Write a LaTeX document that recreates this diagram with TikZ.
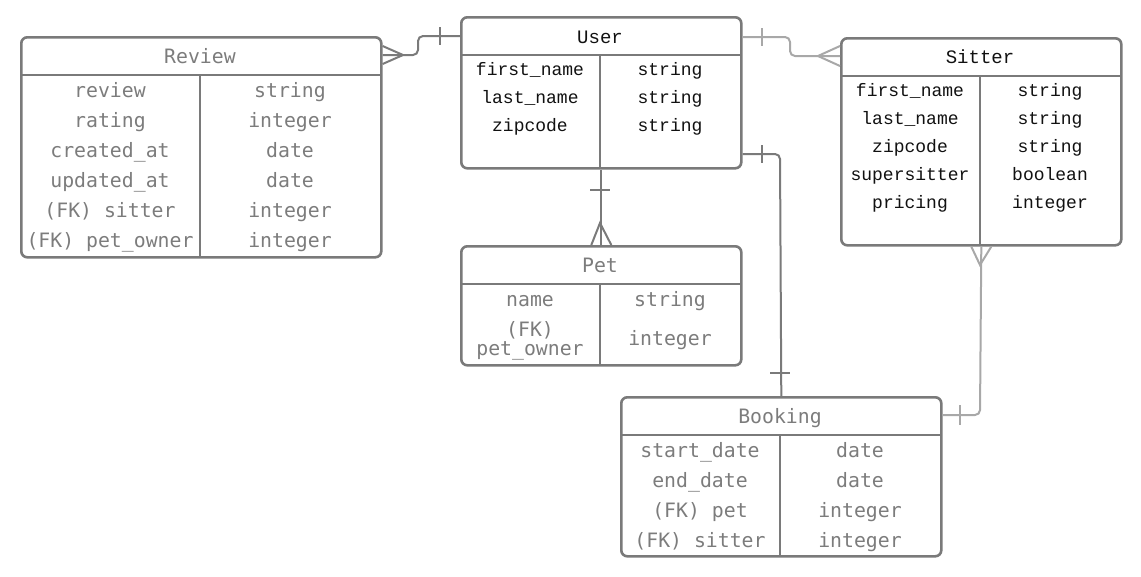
\documentclass[tikz,border=0pt]{standalone}
\usepackage{fontspec}
\newfontfamily\gmono{DejaVu Sans Mono}
\newfontfamily\bmono{Liberation Mono}
\usetikzlibrary{calc}
\definecolor{bord}{HTML}{7A7A7A}
\definecolor{gtext}{HTML}{7C7C7C}
\definecolor{btext}{HTML}{111111}
\definecolor{lconn}{HTML}{A8A8A8}
\tikzset{
  tbl/.style={draw=bord, line width=2.6pt, rounded corners=6pt, inner sep=0pt, anchor=north west},
  sepline/.style={draw=bord, line width=2.6pt},
  gtxt/.style={text=gtext, font=\gmono\fontsize{19.8}{20}\selectfont, anchor=base, inner sep=0pt},
  btxt/.style={text=btext, font=\bmono\fontsize{18}{19}\selectfont, anchor=base, inner sep=0pt},
  bhdr/.style={text=btext, font=\bmono\fontsize{19}{20}\selectfont, anchor=base, inner sep=0pt},
  dconn/.style={draw=bord, line width=2pt, rounded corners=5pt},
  lconnst/.style={draw=lconn, line width=2pt, rounded corners=5pt},
  dmark/.style={draw=bord, line width=2pt},
  lmark/.style={draw=lconn, line width=2pt},
}
\begin{document}
\begin{tikzpicture}[x=1pt,y=-1pt]
\useasboundingbox (0,0) rectangle (1141,576);

% ---------- Review ----------
\node[tbl, minimum width=360pt, minimum height=220pt] (review) at (20,36) {};
\draw[sepline] (20,75) -- (380,75);
\draw[sepline] (200,75) -- (200,256);
\node[gtxt] (reviewh) at (200,63) {Review};
\node[gtxt] (rv1a) at (110,97) {review};      \node[gtxt] (rv1b) at (290,97) {string};
\node[gtxt] (rv2a) at (110,127) {rating};     \node[gtxt] (rv2b) at (290,127) {integer};
\node[gtxt] (rv3a) at (110,157) {created\_at}; \node[gtxt] (rv3b) at (290,157) {date};
\node[gtxt] (rv4a) at (110,187) {updated\_at}; \node[gtxt] (rv4b) at (290,187) {date};
\node[gtxt] (rv5a) at (110,217) {(FK) sitter}; \node[gtxt] (rv5b) at (290,217) {integer};
\node[gtxt] (rv6a) at (110,247) {(FK) pet\_owner}; \node[gtxt] (rv6b) at (290,247) {integer};

% ---------- User ----------
\node[tbl, minimum width=280pt, minimum height=151pt] (user) at (460,16) {};
\draw[sepline] (460,55) -- (740,55);
\draw[sepline] (600,55) -- (600,167);
\node[bhdr] (userh) at (600,43) {User};
\node[btxt] (us1a) at (530,75) {first\_name}; \node[btxt] (us1b) at (670,75) {string};
\node[btxt] (us2a) at (530,103) {last\_name}; \node[btxt] (us2b) at (670,103) {string};
\node[btxt] (us3a) at (530,131) {zipcode};    \node[btxt] (us3b) at (670,131) {string};

% ---------- Sitter ----------
\node[tbl, minimum width=280pt, minimum height=207pt] (sitter) at (840,37) {};
\draw[sepline] (840,76) -- (1120,76);
\draw[sepline] (980,76) -- (980,244);
\node[bhdr] (sitterh) at (980,63) {Sitter};
\node[btxt] (si1a) at (910,96) {first\_name};  \node[btxt] (si1b) at (1050,96) {string};
\node[btxt] (si2a) at (910,124) {last\_name};  \node[btxt] (si2b) at (1050,124) {string};
\node[btxt] (si3a) at (910,152) {zipcode};     \node[btxt] (si3b) at (1050,152) {string};
\node[btxt] (si4a) at (910,180) {supersitter}; \node[btxt] (si4b) at (1050,180) {boolean};
\node[btxt] (si5a) at (910,208) {pricing};     \node[btxt] (si5b) at (1050,208) {integer};

% ---------- Pet ----------
\node[tbl, minimum width=280pt, minimum height=119pt] (pet) at (460,245) {};
\draw[sepline] (460,284) -- (740,284);
\draw[sepline] (600,284) -- (600,364);
\node[gtxt] (peth) at (600,272) {Pet};
\node[gtxt] (pe1a) at (530,306) {name};   \node[gtxt] (pe1b) at (670,306) {string};
\node[gtxt] (pe2a) at (530,336) {(FK)};
\node[gtxt] (pe2c) at (530,355) {pet\_owner};
\node[gtxt] (pe2b) at (670,345) {integer};

% ---------- Booking ----------
\node[tbl, minimum width=320pt, minimum height=159pt] (booking) at (620,396) {};
\draw[sepline] (620,435) -- (940,435);
\draw[sepline] (780,435) -- (780,555);
\node[gtxt] (bookingh) at (780,423) {Booking};
\node[gtxt] (bk1a) at (700,457) {start\_date};  \node[gtxt] (bk1b) at (860,457) {date};
\node[gtxt] (bk2a) at (700,487) {end\_date};    \node[gtxt] (bk2b) at (860,487) {date};
\node[gtxt] (bk3a) at (700,517) {(FK) pet};     \node[gtxt] (bk3b) at (860,517) {integer};
\node[gtxt] (bk4a) at (700,547) {(FK) sitter};  \node[gtxt] (bk4b) at (860,547) {integer};

% ---------- Connectors ----------
% Review -- User
\draw[dconn] ($(review.north east)+(0,19)$) -- (418,55) -- (418,36) -- ($(user.north west)+(0,20)$);
\draw[dmark] ($(review.north east)+(0,10)$) -- (403,55) -- ($(review.north east)+(0,28)$);
\draw[dmark] (440,27) -- (440,45);

% User -- Sitter
\draw[lconnst] ($(user.north east)+(0,21)$) -- (790,37) -- (790,56) -- ($(sitter.north west)+(0,19)$);
\draw[lmark] ($(sitter.north west)+(0,9)$) -- (818,56) -- ($(sitter.north west)+(0,29)$);
\draw[lmark] (762,28) -- (762,46);

% User -- Booking
\draw[dconn] ($(user.north east)+(0,138)$) -- (780,154) -- (booking.north);
\draw[dmark] (762,145) -- (762,163);
\draw[dmark] (770,373) -- (790,373);

% User -- Pet
\draw[dmark] (user.south) -- (pet.north);
\draw[dmark] (590,190) -- (610,190);
\draw[dmark] ($(pet.north)+(-10,0)$) -- (600,223) -- ($(pet.north)+(10,0)$);

% Sitter -- Booking
\draw[lconnst] (sitter.south) -- (980,415) -- ($(booking.north east)+(0,19)$);
\draw[lmark] ($(sitter.south)+(-10,0)$) -- (980,265) -- ($(sitter.south)+(10,0)$);
\draw[lmark] (960,405) -- (960,425);
\end{tikzpicture}
\end{document}
